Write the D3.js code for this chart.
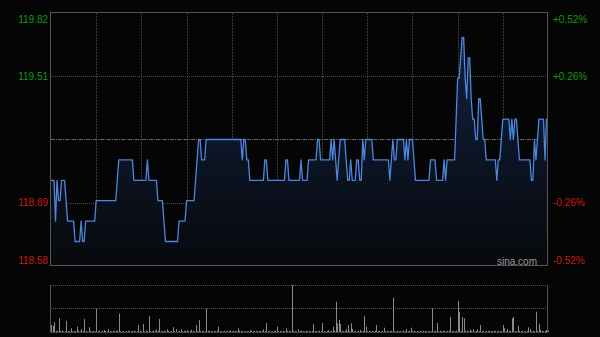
<!DOCTYPE html>
<html>
<head>
<meta charset="utf-8">
<script src="https://cdn.jsdelivr.net/npm/d3@7"></script>
<style>
body { margin: 0; background: #000; }
svg { display: block; }
</style>
</head>
<body>
<div id="chart"></div>
<script>
/* tick labels */
var priceTicks = [119.82, 119.51, 119.20, 118.89, 118.58];
var pctTicks = ["+0.52%", "+0.26%", "0.00%", "-0.26%", "-0.52%"];
var prevClose = 119.20;

/* one price per minute, 9:30-12:00 and 13:00-16:00 */
var prices = [
  119.0,119.0,119.0,118.8,119.0,118.9,118.9,119.0,119.0,119.0,
  118.9,118.8,118.8,118.8,118.8,118.8,118.7,118.7,118.7,118.7,
  118.8,118.7,118.7,118.8,118.8,118.8,118.8,118.8,118.8,118.8,
  118.9,118.9,118.9,118.9,118.9,118.9,118.9,118.9,118.9,118.9,
  118.9,118.9,118.9,118.9,119.0,119.1,119.1,119.1,119.1,119.1,
  119.1,119.1,119.1,119.1,119.1,119.0,119.0,119.0,119.0,119.0,
  119.0,119.0,119.0,119.0,119.1,119.0,119.0,119.0,119.0,119.0,
  119.0,118.9,118.9,118.9,118.9,118.8,118.7,118.7,118.7,118.7,
  118.7,118.7,118.7,118.7,118.7,118.8,118.8,118.8,118.8,118.8,
  118.9,118.9,118.9,118.9,118.9,118.9,119.0,119.1,119.2,119.2,
  119.1,119.1,119.1,119.2,119.2,119.2,119.2,119.2,119.2,119.2,
  119.2,119.2,119.2,119.2,119.2,119.2,119.2,119.2,119.2,119.2,
  119.2,119.2,119.2,119.2,119.2,119.2,119.2,119.1,119.2,119.2,
  119.1,119.1,119.0,119.0,119.0,119.0,119.0,119.0,119.0,119.0,
  119.0,119.0,119.1,119.1,119.0,119.0,119.0,119.0,119.0,119.0,
  119.0,119.0,119.0,119.0,119.0,119.0,119.1,119.1,119.0,119.0,
  119.0,119.0,119.0,119.0,119.0,119.0,119.1,119.0,119.0,119.0,
  119.0,119.1,119.1,119.1,119.1,119.1,119.1,119.2,119.2,119.1,
  119.1,119.1,119.1,119.1,119.1,119.1,119.2,119.1,119.2,119.1,
  119.0,119.1,119.2,119.2,119.2,119.2,119.1,119.0,119.0,119.1,
  119.0,119.0,119.0,119.1,119.1,119.0,119.0,119.2,119.1,119.2,
  119.2,119.2,119.2,119.2,119.1,119.1,119.1,119.1,119.1,119.1,
  119.1,119.1,119.1,119.1,119.1,119.0,119.1,119.2,119.1,119.1,
  119.2,119.2,119.2,119.2,119.2,119.1,119.2,119.1,119.2,119.2,
  119.2,119.1,119.0,119.0,119.0,119.0,119.0,119.0,119.0,119.0,
  119.0,119.0,119.1,119.1,119.1,119.1,119.0,119.0,119.0,119.0,
  119.0,119.1,119.0,119.1,119.1,119.1,119.1,119.1,119.1,119.3,
  119.5,119.5,119.6,119.7,119.7,119.5,119.4,119.6,119.6,119.4,
  119.3,119.3,119.2,119.2,119.4,119.4,119.3,119.2,119.2,119.1,
  119.1,119.1,119.1,119.1,119.1,119.1,119.0,119.1,119.1,119.2,
  119.3,119.3,119.3,119.3,119.3,119.2,119.3,119.2,119.3,119.3,
  119.2,119.1,119.1,119.1,119.1,119.1,119.1,119.1,119.1,119.0,
  119.0,119.2,119.1,119.2,119.3,119.3,119.3,119.3,119.1,119.3,
  119.3
];

/* volume per minute (hundreds of shares) */
var volumes = [
  70,60,97,12,8,137,10,15,6,9,
  110,8,12,37,6,10,9,53,14,7,
  30,11,130,8,6,47,12,9,10,7,
  233,8,14,6,9,20,11,7,30,10,
  6,12,9,8,15,183,10,7,11,6,
  9,13,8,6,10,12,7,9,70,11,
  8,80,6,14,10,157,9,7,12,8,
  27,10,130,6,9,11,8,27,12,7,
  10,47,9,30,6,11,27,8,12,10,
  20,7,9,23,11,6,70,10,120,8,
  12,9,7,233,10,14,6,11,8,9,
  13,53,7,10,6,12,9,8,11,14,
  6,10,9,7,37,12,8,11,6,10,
  9,7,20,13,8,10,6,12,9,11,
  7,27,10,90,8,12,6,9,11,14,
  53,8,10,7,12,6,37,9,11,8,
  470,12,9,6,27,10,14,8,7,11,
  9,12,6,10,80,8,11,7,13,9,
  90,10,6,12,20,8,9,53,11,303,
  87,120,80,10,7,12,27,70,9,87,
  30,11,8,6,12,20,9,10,160,53,
  7,12,8,10,6,14,70,9,11,7,
  10,43,8,12,6,9,11,343,10,7,
  12,8,9,6,14,10,30,7,11,43,
  9,12,6,10,8,11,7,13,9,10,
  6,12,8,237,10,9,90,7,11,8,
  12,10,6,9,14,150,8,11,7,12,
  310,203,10,150,137,9,12,8,27,11,
  27,7,10,27,9,70,12,8,6,11,
  9,13,7,10,8,12,6,11,9,10,
  70,37,8,30,12,9,137,150,10,7,
  63,11,8,12,6,9,10,47,30,8,
  12,7,203,9,80,20,11,8,10,20,
  12
];

var W = 600, H = 337;
var svg = d3.select("#chart").append("svg")
    .attr("width", W)
    .attr("height", H)
    .style("font-family", "'Liberation Sans', Arial, sans-serif");

svg.append("rect").attr("width", W).attr("height", H).attr("fill", "#050505");

var x = d3.scaleLinear().domain([0, prices.length - 1]).range([51, 548]);
var y = d3.scaleLinear().domain([118.58, 119.82]).range([266, 13]);
var yv = d3.scaleLinear().domain([0, d3.max(volumes)]).range([332, 285]);

var defs = svg.append("defs");
var grad = defs.append("linearGradient")
    .attr("id", "area")
    .attr("x1", 0).attr("y1", 0).attr("x2", 0).attr("y2", 1);
grad.append("stop").attr("offset", "0%").attr("stop-color", "#12213d");
grad.append("stop").attr("offset", "100%").attr("stop-color", "#07090d");

// vertical grid, every half hour
var halfHours = d3.range(30, prices.length - 1, 30);
svg.selectAll(".vgrid").data(halfHours).enter().append("line")
    .attr("x1", function(d){ return Math.round(x(d)) + 0.5; })
    .attr("x2", function(d){ return Math.round(x(d)) + 0.5; })
    .attr("y1", 13).attr("y2", 266)
    .attr("stroke", "#3a3a3a")
    .attr("stroke-dasharray", "2,1");

// horizontal grid
svg.selectAll(".hgrid").data(priceTicks.slice(1, 4)).enter().append("line")
    .attr("x1", 51).attr("x2", 548)
    .attr("y1", function(d){ return Math.round(y(d)) + 0.5; })
    .attr("y2", function(d){ return Math.round(y(d)) + 0.5; })
    .attr("stroke", function(d){ return d === prevClose ? "#666" : "#4a4a4a"; })
    .attr("stroke-dasharray", function(d){ return d === prevClose ? "4,1,1,1" : "1,1"; });

// area + line
var area = d3.area()
    .x(function(d, i){ return x(i); })
    .y0(266)
    .y1(function(d){ return y(d); });
var line = d3.line()
    .x(function(d, i){ return x(i); })
    .y(function(d){ return y(d); });

svg.append("path").datum(prices).attr("d", area).attr("fill", "url(#area)");
svg.append("path").datum(prices).attr("d", line)
    .attr("fill", "none")
    .attr("stroke", "#4d86dc")
    .attr("stroke-width", 1.3)
    .attr("stroke-linejoin", "round");

// frame
svg.append("rect")
    .attr("x", 50.5).attr("y", 12.5).attr("width", 497).attr("height", 253)
    .attr("fill", "none").attr("stroke", "#555");

// labels
function labelY(v){ return Math.min(Math.max(y(v), 19), 260); }
function labelColor(i){ return i < 2 ? "#129a12" : "#cc1a10"; }

svg.selectAll(".lt").data(priceTicks).enter()
    .filter(function(d, i){ return i !== 2; })
    .append("text")
    .attr("x", 48)
    .attr("y", function(d){ return labelY(d); })
    .attr("dy", "0.35em")
    .attr("text-anchor", "end")
    .attr("font-size", 10)
    .attr("fill", function(d){ return labelColor(priceTicks.indexOf(d)); })
    .text(function(d){ return d.toFixed(2); });

svg.selectAll(".rt").data(pctTicks).enter()
    .filter(function(d, i){ return i !== 2; })
    .append("text")
    .attr("x", 553)
    .attr("y", function(d){ return labelY(priceTicks[pctTicks.indexOf(d)]); })
    .attr("dy", "0.35em")
    .attr("font-size", 10)
    .attr("fill", function(d){ return labelColor(pctTicks.indexOf(d)); })
    .text(function(d){ return d; });

svg.append("text")
    .attr("x", 537).attr("y", 265)
    .attr("text-anchor", "end")
    .attr("font-size", 10)
    .attr("fill", "#999")
    .text("sina.com");

// volume panel
svg.append("line").attr("x1", 51).attr("x2", 548).attr("y1", 285.5).attr("y2", 285.5)
    .attr("stroke", "#555").attr("stroke-dasharray", "1,1");
svg.append("line").attr("x1", 51).attr("x2", 548).attr("y1", 308.5).attr("y2", 308.5)
    .attr("stroke", "#555").attr("stroke-dasharray", "1,1");
svg.append("line").attr("x1", 51).attr("x2", 548).attr("y1", 332.5).attr("y2", 332.5)
    .attr("stroke", "#444");
svg.append("line").attr("x1", 50.5).attr("x2", 50.5).attr("y1", 285).attr("y2", 333)
    .attr("stroke", "#555");
svg.append("line").attr("x1", 547.5).attr("x2", 547.5).attr("y1", 285).attr("y2", 333)
    .attr("stroke", "#555");

svg.selectAll(".vol").data(volumes).enter().append("rect")
    .attr("x", function(d, i){ return Math.round(x(i)); })
    .attr("width", 1)
    .attr("y", function(d){ return yv(d); })
    .attr("height", function(d){ return 332 - yv(d); })
    .attr("fill", "#8a8a8a");
</script>
</body>
</html>
